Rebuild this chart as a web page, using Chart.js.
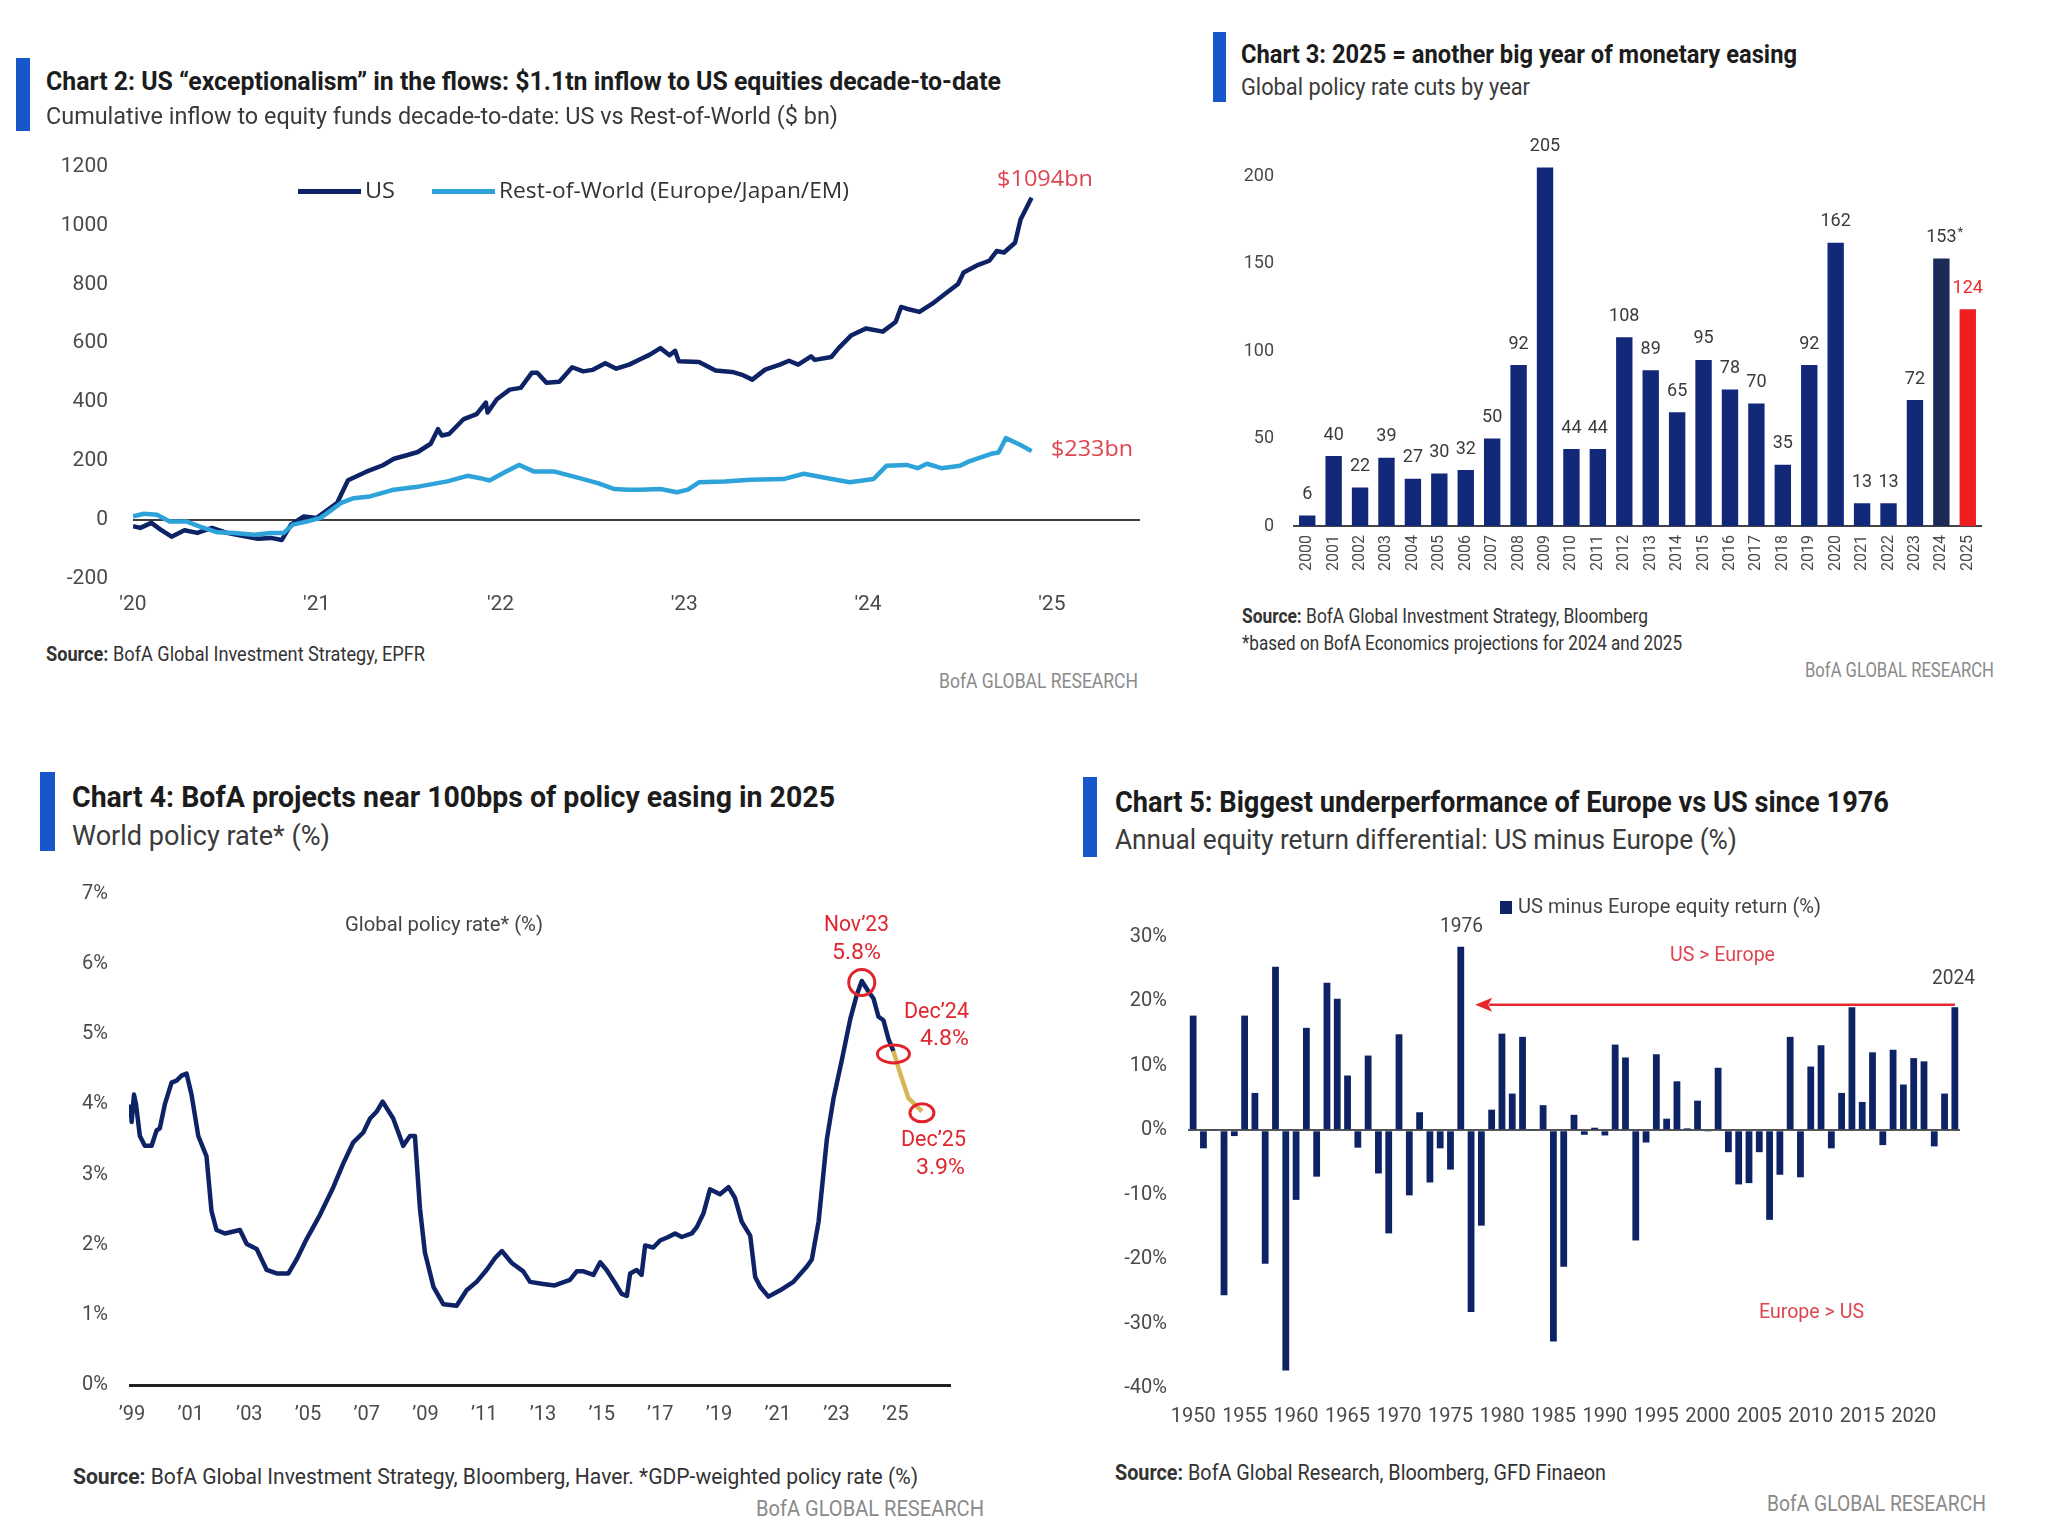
<!DOCTYPE html>
<html><head><meta charset="utf-8">
<script src="https://cdn.jsdelivr.net/npm/chart.js@4.4.1/dist/chart.umd.min.js"></script>
<style>
html,body{margin:0;padding:0;background:#fff;}
#page{position:relative;width:2048px;height:1528px;overflow:hidden;background:#fff;}
.box{position:absolute;}
.t{position:absolute;white-space:nowrap;line-height:1;transform-origin:0 50%;}
.r{position:absolute;}
</style></head><body><div id="page">
<div class="box" id="b2" style="left:0px;top:129px;width:1160px;height:491px;"><canvas id="c2"></canvas></div>
<div class="box" id="b3" style="left:1190px;top:107px;width:830px;height:480px;"><canvas id="c3"></canvas></div>
<div class="box" id="b4" style="left:0px;top:860px;width:1000px;height:570px;"><canvas id="c4"></canvas></div>
<div class="box" id="b5" style="left:1080px;top:903px;width:968px;height:540px;"><canvas id="c5"></canvas></div>
</div>
<script>
// ---------------- DATA ----------------
// Chart 2: cumulative inflows ($bn), x = fractional year
const usX=[2020.00,2020.04,2020.10,2020.15,2020.21,2020.28,2020.35,2020.43,2020.51,2020.60,2020.68,2020.75,2020.81,2020.86,2020.93,2021.00,2021.11,2021.17,2021.27,2021.36,2021.42,2021.49,2021.55,2021.62,2021.66,2021.68,2021.72,2021.80,2021.87,2021.92,2021.93,2021.98,2022.05,2022.11,2022.17,2022.20,2022.25,2022.32,2022.39,2022.45,2022.50,2022.57,2022.63,2022.70,2022.76,2022.81,2022.87,2022.92,2022.95,2022.97,2023.08,2023.17,2023.26,2023.32,2023.37,2023.44,2023.52,2023.57,2023.62,2023.69,2023.71,2023.80,2023.84,2023.91,2023.99,2024.08,2024.15,2024.18,2024.21,2024.28,2024.35,2024.42,2024.49,2024.52,2024.60,2024.66,2024.70,2024.74,2024.80,2024.83,2024.89];
const usY=[-22,-28,-11,-34,-58,-36,-45,-28,-45,-56,-65,-62,-69,-17,11,6,56,134,163,185,207,219,230,258,308,286,291,342,359,398,364,409,442,448,499,499,465,469,518,504,509,532,513,527,545,560,583,559,574,538,536,507,502,491,476,510,527,540,527,555,543,553,583,627,650,639,672,723,717,706,734,768,801,840,866,880,913,908,941,1020,1094];
const rowX=[2020.00,2020.06,2020.13,2020.20,2020.29,2020.36,2020.46,2020.55,2020.66,2020.75,2020.82,2020.87,2020.95,2021.02,2021.07,2021.13,2021.20,2021.29,2021.42,2021.56,2021.71,2021.82,2021.89,2021.94,2022.02,2022.10,2022.18,2022.29,2022.43,2022.53,2022.62,2022.69,2022.76,2022.87,2022.96,2023.02,2023.08,2023.22,2023.36,2023.54,2023.65,2023.78,2023.90,2024.03,2024.10,2024.21,2024.27,2024.32,2024.40,2024.50,2024.55,2024.67,2024.71,2024.75,2024.83,2024.89];
const rowY=[11,20,17,-6,-6,-23,-43,-45,-51,-45,-45,-17,-6,6,28,56,73,79,102,113,130,149,141,133,160,186,164,164,141,124,104,102,102,104,93,102,127,130,136,138,156,141,127,138,183,186,175,190,175,183,198,224,228,277,254,233];
const flowTicksX=[2020,2021,2022,2023,2024,2025];
const flowTicksY=[-200,0,200,400,600,800,1000,1200];

// Chart 3: global policy rate cuts by year
const cutYears=['2000','2001','2002','2003','2004','2005','2006','2007','2008','2009','2010','2011','2012','2013','2014','2015','2016','2017','2018','2019','2020','2021','2022','2023','2024','2025'];
const cutVals=[6,40,22,39,27,30,32,50,92,205,44,44,108,89,65,95,78,70,35,92,162,13,13,72,153,124];
const cutTicksY=[0,50,100,150,200];

// Chart 4: world policy rate (%), x = fractional year
const rateX=[1998.95,1998.99,1999.07,1999.14,1999.27,1999.44,1999.67,1999.84,1999.95,2000.12,2000.35,2000.52,2000.69,2000.86,2001.03,2001.26,2001.54,2001.71,2001.88,2002.17,2002.68,2002.91,2003.25,2003.59,2003.93,2004.33,2004.61,2004.95,2005.41,2005.86,2006.20,2006.54,2006.88,2007.11,2007.34,2007.54,2007.90,2008.24,2008.47,2008.64,2008.81,2008.98,2009.27,2009.61,2010.06,2010.40,2010.74,2011.08,2011.37,2011.60,2011.94,2012.33,2012.56,2013.01,2013.40,2013.92,2014.15,2014.38,2014.72,2014.95,2015.17,2015.46,2015.68,2015.86,2015.97,2016.19,2016.36,2016.48,2016.76,2016.99,2017.27,2017.50,2017.73,2018.07,2018.24,2018.47,2018.69,2019.03,2019.32,2019.54,2019.77,2020.06,2020.23,2020.40,2020.68,2021.08,2021.53,2021.99,2022.16,2022.39,2022.67,2022.90,2023.18,2023.47,2023.69,2023.86,2024.09,2024.26,2024.43,2024.60,2024.77,2024.94,2025.17,2025.45,2025.91];
const rateY=[4.00,3.75,4.14,4.00,3.55,3.41,3.41,3.63,3.66,4.00,4.31,4.34,4.41,4.44,4.14,3.55,3.26,2.48,2.21,2.16,2.21,2.01,1.94,1.64,1.59,1.59,1.79,2.08,2.43,2.82,3.16,3.46,3.60,3.80,3.90,4.04,3.80,3.41,3.55,3.55,2.52,1.89,1.40,1.15,1.13,1.35,1.47,1.64,1.81,1.91,1.74,1.62,1.47,1.44,1.42,1.50,1.62,1.62,1.57,1.75,1.64,1.45,1.30,1.27,1.59,1.64,1.57,1.99,1.96,2.06,2.11,2.16,2.11,2.16,2.25,2.45,2.79,2.72,2.82,2.67,2.33,2.13,1.54,1.40,1.26,1.35,1.47,1.69,1.79,2.33,3.50,4.09,4.63,5.22,5.56,5.76,5.61,5.51,5.25,5.20,4.93,4.76,4.44,4.09,3.90];
const rateMarkX=[2023.86,2024.94,2025.91];
const rateMarkY=[5.74,4.72,3.88];
const projectionStart=2024.94;
const rateTicksX=[1999,2001,2003,2005,2007,2009,2011,2013,2015,2017,2019,2021,2023,2025];
const rateTicksY=[0,1,2,3,4,5,6,7];

// Chart 5: US minus Europe annual equity return (%)
const diffYears=[1950,1951,1952,1953,1954,1955,1956,1957,1958,1959,1960,1961,1962,1963,1964,1965,1966,1967,1968,1969,1970,1971,1972,1973,1974,1975,1976,1977,1978,1979,1980,1981,1982,1983,1984,1985,1986,1987,1988,1989,1990,1991,1992,1993,1994,1995,1996,1997,1998,1999,2000,2001,2002,2003,2004,2005,2006,2007,2008,2009,2010,2011,2012,2013,2014,2015,2016,2017,2018,2019,2020,2021,2022,2023,2024];
const diffVals=[17.8,-2.8,0.2,-25.6,-0.9,17.8,5.8,-20.7,25.4,-37.3,-10.8,15.9,-7.2,22.9,20.4,8.5,-2.7,11.6,-6.7,-16.0,14.9,-10.1,2.8,-8.1,-2.8,-6.1,28.5,-28.2,-14.8,3.2,15.0,5.7,14.5,0.1,3.9,-32.8,-21.2,2.4,-0.7,0.4,-0.8,13.3,11.3,-17.1,-1.9,11.8,1.8,7.6,0.3,4.6,-0.2,9.7,-3.4,-8.4,-8.2,-3.4,-13.9,-6.9,14.5,-7.3,9.9,13.2,-2.8,5.8,19.1,4.4,12.1,-2.3,12.5,7.1,11.2,10.7,-2.5,5.7,19.1];
const diffTicksY=[-40,-30,-20,-10,0,10,20,30];
const arrowLevel=19.5, arrowFromYear=2024, arrowToYear=1976;

// ---------------- STYLE ----------------
const NARROW='Roboto';
const TICKF='Roboto';
const NAVY='#0d2366', NAVY3='#12297a', LIGHT='#2ea3da', PINK='#de4550';
const TICKC='#4a4a4a';
Chart.defaults.font.family=TICKF;
Chart.defaults.color=TICKC;
Chart.defaults.animation=false;
Chart.defaults.responsive=true;
Chart.defaults.maintainAspectRatio=false;
Chart.defaults.plugins.legend.display=false;
Chart.defaults.plugins.tooltip.enabled=false;

function fixTicks(arr){return function(s){s.ticks=arr.map(v=>({value:v}));};}
function zeroGrid(col,w){return {color:c=>(c.tick&&c.tick.value===0)?col:'rgba(0,0,0,0)',lineWidth:w,drawTicks:false};}

// ---------------- CHART 2 ----------------
new Chart(document.getElementById('c2'),{
  type:'line',
  data:{datasets:[
    {label:'US',data:usX.map((x,i)=>({x:x,y:usY[i]})),borderColor:NAVY,borderWidth:4.5,pointRadius:0,tension:0,order:1,borderJoinStyle:'round'},
    {label:'Rest-of-World (Europe/Japan/EM)',data:rowX.map((x,i)=>({x:x,y:rowY[i]})),borderColor:LIGHT,borderWidth:4.5,pointRadius:0,tension:0,order:0,borderJoinStyle:'round'}
  ]},
  options:{
    layout:{padding:{left:0,right:20,top:16,bottom:0}},
    scales:{
      x:{type:'linear',min:2020,max:2025.48,afterBuildTicks:fixTicks(flowTicksX),
         ticks:{callback:v=>"'"+String(v).slice(2),padding:6,font:{size:21},color:TICKC,maxRotation:0,autoSkip:false},
         grid:{display:false},border:{display:false},afterFit:s=>{s.height=41.5;}},
      y:{type:'linear',min:-200,max:1200,afterBuildTicks:fixTicks(flowTicksY),
         ticks:{callback:v=>String(v),padding:25,font:{size:21},color:TICKC},
         grid:zeroGrid('#3c3c3c',2),border:{display:false},afterFit:s=>{s.width=133;}}
    }
  }
});

// ---------------- CHART 3 ----------------
const cutValueLabels={id:'cutValueLabels',afterDatasetsDraw(chart){
  const ctx=chart.ctx;const meta=chart.getDatasetMeta(0);
  ctx.save();ctx.textAlign='center';ctx.textBaseline='middle';
  meta.data.forEach((bar,i)=>{
    const last=(cutYears[i]==='2025');
    ctx.fillStyle=last?'#f0282a':'#3a3a3a';
    ctx.font='18px '+TICKF;
    const txt=String(cutVals[i]);
    ctx.fillText(txt,bar.x,bar.y-21);
    if(cutYears[i]==='2024'){const w=ctx.measureText(txt).width;ctx.font='13px '+TICKF;ctx.textAlign='left';ctx.fillText('*',bar.x+w/2+1,bar.y-26);ctx.textAlign='center';}
  });
  ctx.restore();
}};
new Chart(document.getElementById('c3'),{
  type:'bar',
  data:{labels:cutYears,datasets:[{data:cutVals,
    backgroundColor:cutYears.map(y=>y==='2025'?'#f01f1f':(y==='2024'?'#1c2b56':NAVY3)),
    barPercentage:0.62,categoryPercentage:1}]},
  options:{
    layout:{padding:{left:0,right:39,top:28,bottom:0}},
    scales:{
      x:{ticks:{minRotation:90,maxRotation:90,autoSkip:false,padding:9,font:{size:16},color:TICKC},
         grid:{display:false,drawTicks:false},border:{display:true,color:'#444',width:2},afterFit:s=>{s.height=61;}},
      y:{min:0,max:222,afterBuildTicks:fixTicks(cutTicksY),ticks:{padding:20,font:{size:18},color:TICKC},
         grid:{display:false,drawTicks:false},border:{display:false},afterFit:s=>{s.width=104;}}
    }
  },
  plugins:[cutValueLabels]
});

// ---------------- CHART 4 ----------------
const rateRings={id:'rateRings',afterDatasetsDraw(chart){
  const ctx=chart.ctx,xs=chart.scales.x,ys=chart.scales.y;
  const radii=[[13,13],[16,9],[12,9]];
  ctx.save();ctx.strokeStyle='#e2232b';ctx.lineWidth=3;
  rateMarkX.forEach((x,i)=>{ctx.beginPath();ctx.ellipse(xs.getPixelForValue(x),ys.getPixelForValue(rateMarkY[i]),radii[i][0],radii[i][1],0,0,Math.PI*2);ctx.stroke();});
  ctx.restore();
}};
new Chart(document.getElementById('c4'),{
  type:'line',
  data:{datasets:[{data:rateX.map((x,i)=>({x:x,y:rateY[i]})),borderColor:NAVY,borderWidth:4.5,pointRadius:0,tension:0,borderJoinStyle:'round',
    segment:{borderColor:c=>c.p0.parsed.x>=projectionStart-0.001?'#d8b656':NAVY}}]},
  options:{
    layout:{padding:{left:0,right:49,top:34,bottom:0}},
    scales:{
      x:{type:'linear',min:1998.9,max:2026.9,afterBuildTicks:fixTicks(rateTicksX),
         ticks:{callback:v=>'\u2019'+String(v).slice(2),padding:10,font:{size:20},color:TICKC,maxRotation:0,autoSkip:false},
         grid:{display:false},border:{display:false},afterFit:s=>{s.height=45;}},
      y:{min:0,max:7,afterBuildTicks:fixTicks(rateTicksY),ticks:{callback:v=>v+'%',padding:21,font:{size:20},color:TICKC},
         grid:zeroGrid('#222',3),border:{display:false},afterFit:s=>{s.width=129;}}
    }
  },
  plugins:[rateRings]
});

// ---------------- CHART 5 ----------------
const diffArrow={id:'diffArrow',afterDatasetsDraw(chart){
  const ctx=chart.ctx,xs=chart.scales.x,ys=chart.scales.y;
  const x0=xs.getPixelForValue(diffYears.indexOf(arrowFromYear));
  const x1=xs.getPixelForValue(diffYears.indexOf(arrowToYear)+1.4);
  const y=ys.getPixelForValue(arrowLevel);
  ctx.save();ctx.strokeStyle='#e8262d';ctx.fillStyle='#e8262d';ctx.lineWidth=2.5;
  ctx.beginPath();ctx.moveTo(x0,y);ctx.lineTo(x1+14,y);ctx.stroke();
  ctx.beginPath();ctx.moveTo(x1,y);ctx.lineTo(x1+17,y-7);ctx.lineTo(x1+13,y);ctx.lineTo(x1+17,y+7);ctx.closePath();ctx.fill();
  ctx.restore();
}};
new Chart(document.getElementById('c5'),{
  type:'bar',
  data:{labels:diffYears.map(String),datasets:[{data:diffVals,backgroundColor:NAVY,barPercentage:0.66,categoryPercentage:1}]},
  options:{
    layout:{padding:{left:0,right:88,top:34,bottom:0}},
    scales:{
      x:{ticks:{autoSkip:false,maxRotation:0,minRotation:0,callback:(v,i)=>(diffYears[i]%5===0?String(diffYears[i]):''),padding:17,font:{size:20},color:TICKC},
         grid:{display:false,drawTicks:false},border:{display:false},afterFit:s=>{s.height=55;}},
      y:{min:-40,max:30,afterBuildTicks:fixTicks(diffTicksY),ticks:{callback:v=>v+'%',padding:21,font:{size:20},color:TICKC},
         grid:zeroGrid('#555',2),border:{display:false},afterFit:s=>{s.width=108;}}
    }
  },
  plugins:[diffArrow]
});

// ---------------- TEXT & DECOR ----------------
const page=document.getElementById('page');
function rect(x,y,w,h,col){const d=document.createElement('div');d.className='r';d.style.left=x+'px';d.style.top=y+'px';d.style.width=w+'px';d.style.height=h+'px';d.style.background=col;page.appendChild(d);}
rect(16,58,14,73,'#1856cc');
rect(1213,32,13,70,'#1856cc');
rect(40,772,15,79,'#1856cc');
rect(1083,777,14,80,'#1856cc');
rect(298,189,63,5,NAVY);
rect(432,189,63,5,LIGHT);
rect(1500,901,12,13,NAVY);

const OS='"Open Sans"';
const TXT=[
 // html, x, yCenter, size, weight, color, width, align, family
 ['Chart 2: US \u201cexceptionalism\u201d in the flows: $1.1tn inflow to US equities decade-to-date',46,82,25,'bold','#1c1c1c',955,'l',NARROW],
 ['Cumulative inflow to equity funds decade-to-date: US vs Rest-of-World ($ bn)',46,116,24,'normal','#3a3a3a',792,'l',NARROW],
 ['US',365,191,21,'normal','#333',30,'l',OS],
 ['Rest-of-World (Europe/Japan/EM)',499,191,21,'normal','#333',350,'l',OS],
 ['$1094bn',1045,179,21,'normal',PINK,96,'c',OS],
 ['$233bn',1051,449,21,'normal',PINK,82,'l',OS],
 ['<b>Source:</b> BofA Global Investment Strategy, EPFR',46,654,20,'normal','#333',379,'l',NARROW],
 ['BofA GLOBAL RESEARCH',1138,681,20,'normal','#8a8a8a',199,'r',NARROW],

 ['Chart 3: 2025 = another big year of monetary easing',1241,55,25,'bold','#1c1c1c',556,'l',NARROW],
 ['Global policy rate cuts by year',1241,87,24,'normal','#3a3a3a',289,'l',NARROW],
 ['<b>Source:</b> BofA Global Investment Strategy, Bloomberg',1242,616,20,'normal','#333',406,'l',NARROW],
 ['*based on BofA Economics projections for 2024 and 2025',1242,643,20,'normal','#333',440,'l',NARROW],
 ['BofA GLOBAL RESEARCH',1994,670,20,'normal','#8a8a8a',189,'r',NARROW],

 ['Chart 4: BofA projects near 100bps of policy easing in 2025',72,798,29,'bold','#1c1c1c',763,'l',NARROW],
 ['World policy rate* (%)',72,837,28,'normal','#3a3a3a',258,'l',NARROW],
 ['Global policy rate* (%)',444,925,21,'normal','#444',198,'c',NARROW],
 ['Nov\u201923',856,924,22,'normal','#e0262e',65,'c',NARROW],
 ['5.8%',856,952,22,'normal','#e0262e',49,'c',NARROW],
 ['Dec\u201924',936,1011,22,'normal','#e0262e',65,'c',NARROW],
 ['4.8%',944,1038,22,'normal','#e0262e',49,'c',NARROW],
 ['Dec\u201925',933,1139,22,'normal','#e0262e',65,'c',NARROW],
 ['3.9%',940,1167,22,'normal','#e0262e',49,'c',NARROW],
 ['<b>Source:</b> BofA Global Investment Strategy, Bloomberg, Haver. *GDP-weighted policy rate (%)',73,1477,22,'normal','#333',845,'l',NARROW],
 ['BofA GLOBAL RESEARCH',984,1509,22,'normal','#8a8a8a',228,'r',NARROW],

 ['Chart 5: Biggest underperformance of Europe vs US since 1976',1115,803,29,'bold','#1c1c1c',774,'l',NARROW],
 ['Annual equity return differential: US minus Europe (%)',1115,841,28,'normal','#3a3a3a',622,'l',NARROW],
 ['US minus Europe equity return (%)',1518,907,21,'normal','#444',303,'l',NARROW],
 ['1976',1461,926,21,'normal','#444',43,'c',NARROW],
 ['US &gt; Europe',1722,955,21,'normal',PINK,105,'c',NARROW],
 ['2024',1953,978,21,'normal','#444',43,'c',NARROW],
 ['Europe &gt; US',1811,1312,21,'normal',PINK,105,'c',NARROW],
 ['<b>Source:</b> BofA Global Research, Bloomberg, GFD Finaeon',1115,1473,22,'normal','#333',491,'l',NARROW],
 ['BofA GLOBAL RESEARCH',1986,1504,22,'normal','#8a8a8a',219,'r',NARROW]
];
TXT.forEach(([h,x,y,s,wt,col,w,al,fam])=>{
  const d=document.createElement('div');d.className='t';d.innerHTML=h;
  d.style.fontSize=s+'px';d.style.fontWeight=wt;d.style.color=col;d.style.fontFamily=fam;
  d.style.left='0px';d.style.top='0px';
  page.appendChild(d);
  const nat=d.getBoundingClientRect().width;
  const k=w/nat;
  d.style.transform='scaleX('+k.toFixed(4)+')';
  const left=al==='c'?x-w/2:(al==='r'?x-w:x);
  d.style.left=left+'px';d.style.top=(y-s*0.52)+'px';
});
</script>
</body></html>
